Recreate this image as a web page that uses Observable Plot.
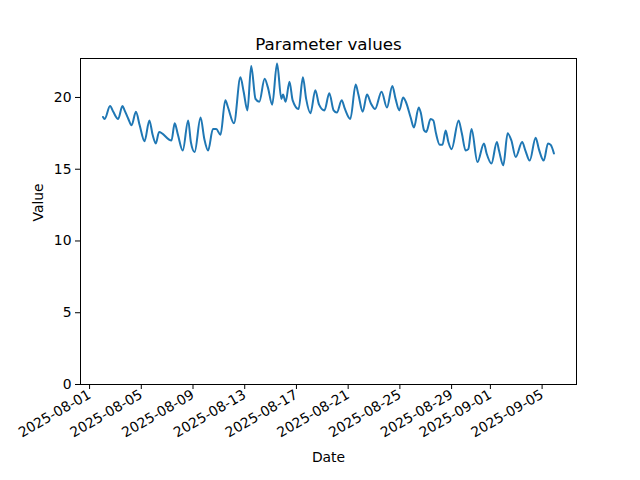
<!DOCTYPE html>
<html><head><meta charset="utf-8">
<script src="https://cdn.jsdelivr.net/npm/d3@7"></script>
<script src="https://cdn.jsdelivr.net/npm/@observablehq/plot@0.6"></script>
<style>body{margin:0;background:#fff}</style>
</head><body><div id="chart"></div>
<script>
const timestamps = [
"2025-08-02T01","2025-08-02T04","2025-08-02T14","2025-08-02T20","2025-08-03T05","2025-08-03T13","2025-08-03T17",
"2025-08-04T00","2025-08-04T06","2025-08-04T14","2025-08-04T21","2025-08-05T06","2025-08-05T15","2025-08-05T21",
"2025-08-06T03","2025-08-06T09","2025-08-07T08","2025-08-07T14","2025-08-07T20","2025-08-08T05","2025-08-08T15",
"2025-08-08T20","2025-08-09T03","2025-08-09T14","2025-08-09T21","2025-08-10T04","2025-08-10T13","2025-08-10T19",
"2025-08-11T03","2025-08-11T12","2025-08-11T17","2025-08-12T04","2025-08-12T16","2025-08-12T22","2025-08-13T05",
"2025-08-13T12","2025-08-13T20","2025-08-14T03","2025-08-14T13","2025-08-14T19","2025-08-15T03","2025-08-15T12",
"2025-08-15T20","2025-08-15T23","2025-08-16T04","2025-08-16T11","2025-08-16T17","2025-08-17T04","2025-08-17T12",
"2025-08-17T18","2025-08-18T02","2025-08-18T11","2025-08-18T18","2025-08-19T04","2025-08-19T13","2025-08-19T21",
"2025-08-20T03","2025-08-20T12","2025-08-20T18","2025-08-21T04","2025-08-21T14","2025-08-21T19","2025-08-22T03",
"2025-08-22T11","2025-08-22T18","2025-08-23T02","2025-08-23T14","2025-08-24T00","2025-08-24T10","2025-08-24T16",
"2025-08-24T23","2025-08-25T06","2025-08-25T11","2025-08-25T20","2025-08-26T02","2025-08-26T11","2025-08-26T15",
"2025-08-26T21","2025-08-27T01","2025-08-27T09","2025-08-27T14","2025-08-27T19","2025-08-28T02","2025-08-28T07",
"2025-08-28T13","2025-08-28T18","2025-08-29T00","2025-08-29T13","2025-08-29T19","2025-08-30T02","2025-08-30T07",
"2025-08-30T13","2025-08-31T00","2025-08-31T12","2025-08-31T17","2025-09-01T02","2025-09-01T12","2025-09-01T16",
"2025-09-02T00","2025-09-02T08","2025-09-02T15","2025-09-02T23","2025-09-03T11","2025-09-03T17","2025-09-04T01",
"2025-09-04T12","2025-09-04T18","2025-09-05T03","2025-09-05T11","2025-09-05T16","2025-09-05T22"
];
const values = [
18.64,18.5,19.4,19.0,18.5,19.4,19.1,
18.5,18.06,19.0,18.06,16.95,18.4,17.4,
16.8,17.6,17.0,18.2,17.4,16.3,18.4,
16.9,16.2,18.6,17.1,16.3,17.8,17.8,
17.4,19.8,19.3,18.2,21.4,20.4,19.1,
22.2,19.9,19.7,21.3,20.7,19.5,22.36,
19.9,20.2,19.7,21.1,19.8,19.2,21.4,
19.9,18.9,20.5,19.5,19.1,20.3,19.1,
18.95,19.8,19.2,18.5,20.9,20.2,19.0,
20.2,19.6,19.2,20.4,19.3,20.8,19.9,
19.1,20.0,19.7,18.6,17.9,19.3,18.9,
17.7,17.6,18.5,18.4,17.5,16.7,16.7,
17.7,16.9,16.4,18.4,17.5,16.3,16.4,
17.8,15.5,16.8,16.1,15.4,16.9,16.3,
15.27,17.5,17.0,15.85,16.9,16.3,15.6,
17.2,16.4,15.6,16.8,16.7,16.1
];
const xTickDates = ["2025-08-01","2025-08-05","2025-08-09","2025-08-13","2025-08-17","2025-08-21","2025-08-25","2025-08-29","2025-09-01","2025-09-05"];
const yTicks = [0, 5, 10, 15, 20];
const titleText = "Parameter values";
const xLabel = "Date";
const yLabel = "Value";

const parseT = s => new Date(s + ":00:00Z");
const data = timestamps.map((t, i) => ({date: parseT(t), value: values[i]}));
const [t0, t1] = d3.extent(data, d => d.date);
const pad = (t1 - t0) * 0.05;
const [vmin, vmax] = d3.extent(values);
const yTop = vmax + 0.05 * (vmax - vmin);
const fmt = d3.utcFormat("%Y-%m-%d");

const chart = Plot.plot({
  width: 640, height: 480,
  marginLeft: 80, marginRight: 64, marginTop: 58, marginBottom: 96,
  style: {fontFamily: "DejaVu Sans", fontSize: "13.9px", color: "#000", background: "#fff"},
  x: {type: "utc", domain: [new Date(+t0 - pad), new Date(+t1 + pad)]},
  y: {domain: [0, yTop]},
  marks: [
    Plot.line(data, {x: "date", y: "value", stroke: "#1f77b4", strokeWidth: 2, curve: "monotone-x"}),
    Plot.frame({stroke: "#000", strokeWidth: 1}),
    Plot.axisX({ticks: xTickDates.map(d => new Date(d + "T00:00:00Z")), tickFormat: fmt, tickRotate: -30,
      tickSize: 5, tickPadding: 4, label: null, fontSize: 13.9}),
    Plot.axisY({ticks: yTicks, tickSize: 5, tickPadding: 4, label: null, fontSize: 13.9}),
    Plot.text([titleText], {frameAnchor: "top", dy: -20, fontSize: 16.7}),
    Plot.text([xLabel], {frameAnchor: "bottom", dy: 77, fontSize: 13.9}),
    Plot.text([yLabel], {frameAnchor: "left", dx: -42, rotate: -90, fontSize: 13.9})
  ]
});
document.getElementById("chart").append(chart);
</script>
</body></html>
